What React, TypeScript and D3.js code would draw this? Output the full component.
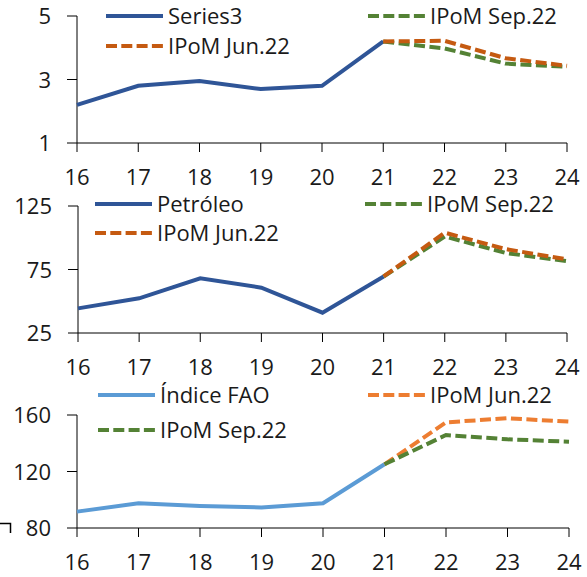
import React from 'react';
import * as d3 from 'd3';

// years on the x axis (20xx)
const years = [16, 17, 18, 19, 20, 21, 22, 23, 24];
const histYears = [16, 17, 18, 19, 20, 21];
const projYears = [21, 22, 23, 24];

// panel 1
const series3 = [2.2, 2.8, 2.95, 2.7, 2.8, 4.2];
const series3Jun = [4.2, 4.22, 3.67, 3.43];
const series3Sep = [4.2, 3.98, 3.5, 3.4];
const series3Ticks = [1, 3, 5];

// panel 2
const petroleo = [44.4, 52.3, 68, 60.7, 41, 69.5];
const petroleoJun = [69.5, 104, 91, 83];
const petroleoSep = [69.5, 101, 88, 81.5];
const petroleoTicks = [25, 75, 125];

// panel 3
const fao = [91.6, 97.5, 95.6, 94.6, 97.5, 125.1];
const faoJun = [125.1, 154.8, 157.7, 155.3];
const faoSep = [125.1, 145.8, 142.8, 141.1];
const faoTicks = [80, 120, 160];

const FONT = '"Open Sans", sans-serif';

type Legend = { label: string; color: string; dashed: boolean; x: number; y: number };

type PanelProps = {
  top: number;
  bottom: number;
  x0: number;
  x1: number;
  ticks: number[];
  hist: number[];
  histColor: string;
  jun: number[];
  junColor: string;
  sep: number[];
  sepColor: string;
  junOnTop: boolean;
  legend: Legend[];
};

const Panel = (p: PanelProps) => {
  const x = d3.scaleLinear().domain([16, 24]).range([p.x0, p.x1]);
  const y = d3.scaleLinear().domain(d3.extent(p.ticks) as [number, number]).range([p.bottom, p.top]);
  const line = d3.line<[number, number]>().x(d => x(d[0])).y(d => y(d[1]));

  const histPts = histYears.map((yr, i) => [yr, p.hist[i]] as [number, number]);
  const junPts = projYears.map((yr, i) => [yr, p.jun[i]] as [number, number]);
  const sepPts = projYears.map((yr, i) => [yr, p.sep[i]] as [number, number]);

  const junPath = <path key="jun" d={line(junPts) || ''} fill="none" stroke={p.junColor} strokeWidth={4} strokeDasharray="11 4.5" />;
  const sepPath = <path key="sep" d={line(sepPts) || ''} fill="none" stroke={p.sepColor} strokeWidth={4} strokeDasharray="11 4.5" />;

  return (
    <g>
      {/* y axis */}
      <line x1={p.x0} x2={p.x0} y1={p.top} y2={p.bottom} stroke="#000" strokeWidth={1} />
      {p.ticks.map(t => (
        <g key={t}>
          <line x1={p.x0 - 10} x2={p.x0} y1={y(t)} y2={y(t)} stroke="#000" strokeWidth={1} />
          <text x={p.x0 - 26} y={y(t) + 8} textAnchor="end" fontSize={22} fontFamily={FONT} fill="#1a1a1a">{t}</text>
        </g>
      ))}
      {/* x axis */}
      <line x1={p.x0} x2={p.x1} y1={p.bottom} y2={p.bottom} stroke="#000" strokeWidth={1} />
      {years.map(yr => (
        <g key={yr}>
          <line x1={x(yr)} x2={x(yr)} y1={p.bottom} y2={p.bottom + 9} stroke="#000" strokeWidth={1} />
          <text x={x(yr)} y={p.bottom + 42} textAnchor="middle" fontSize={22} fontFamily={FONT} fill="#1a1a1a">{yr}</text>
        </g>
      ))}
      {/* series */}
      <path d={line(histPts) || ''} fill="none" stroke={p.histColor} strokeWidth={4} />
      {p.junOnTop ? [sepPath, junPath] : [junPath, sepPath]}
      {/* legend */}
      {p.legend.map(l => (
        <g key={l.label}>
          <line x1={l.x} x2={l.x + 57} y1={l.y} y2={l.y} stroke={l.color} strokeWidth={4}
            strokeDasharray={l.dashed ? '11 4.3' : undefined} />
          <text x={l.x + 62} y={l.y + 8} fontSize={22} fontFamily={FONT} fill="#1a1a1a">{l.label}</text>
        </g>
      ))}
    </g>
  );
};

const App = () => {
  const blue = '#2F5597';
  const lightBlue = '#5B9BD5';
  const darkOrange = '#C55A11';
  const orange = '#ED7D31';
  const green = '#548235';
  return (
    <svg width={587} height={577} style={{ position: 'absolute', left: 0, top: 0, background: '#fff' }}>
      <Panel top={16} bottom={143} x0={77} x1={567} ticks={series3Ticks}
        hist={series3} histColor={blue} jun={series3Jun} junColor={darkOrange}
        sep={series3Sep} sepColor={green} junOnTop={true}
        legend={[
          { label: 'Series3', color: blue, dashed: false, x: 106, y: 16 },
          { label: 'IPoM Jun.22', color: darkOrange, dashed: true, x: 106, y: 46 },
          { label: 'IPoM Sep.22', color: green, dashed: true, x: 368, y: 16 },
        ]} />
      <Panel top={206} bottom={333} x0={78} x1={567} ticks={petroleoTicks}
        hist={petroleo} histColor={blue} jun={petroleoJun} junColor={darkOrange}
        sep={petroleoSep} sepColor={green} junOnTop={true}
        legend={[
          { label: 'Petróleo', color: blue, dashed: false, x: 95, y: 204 },
          { label: 'IPoM Jun.22', color: darkOrange, dashed: true, x: 95, y: 233 },
          { label: 'IPoM Sep.22', color: green, dashed: true, x: 365, y: 204 },
        ]} />
      <Panel top={415} bottom={528} x0={77} x1={569} ticks={faoTicks}
        hist={fao} histColor={lightBlue} jun={faoJun} junColor={orange}
        sep={faoSep} sepColor={green} junOnTop={false}
        legend={[
          { label: 'Índice FAO', color: lightBlue, dashed: false, x: 98, y: 395 },
          { label: 'IPoM Sep.22', color: green, dashed: true, x: 98, y: 430 },
          { label: 'IPoM Jun.22', color: orange, dashed: true, x: 368, y: 395 },
        ]} />
      {/* stray corner mark at the left edge */}
      <path d="M0,523.5H10.5V533" fill="none" stroke="#000" strokeWidth={1.5} />
    </svg>
  );
};

export default App;
